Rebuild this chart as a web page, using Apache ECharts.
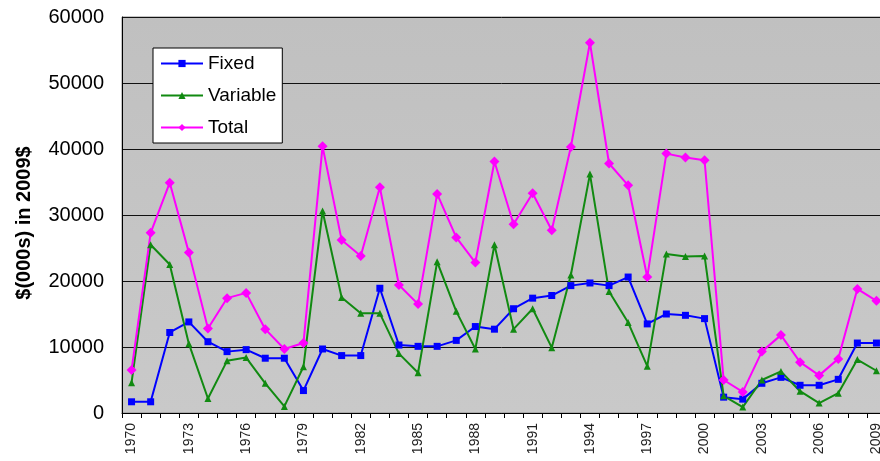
<!DOCTYPE html>
<html>
<head>
<meta charset="utf-8">
<script src="https://cdn.jsdelivr.net/npm/echarts@6/dist/echarts.min.js"></script>
<style>
  html, body { margin: 0; padding: 0; background: #fff; }
  #chart { width: 880px; height: 461px; }
</style>
</head>
<body>
<div id="chart"></div>
<script>
// Annual costs, thousands of 2009 dollars
const years = [];
for (let y = 1970; y <= 2009; y++) years.push(String(y));

const fixed = [1700, 1700, 12200, 13800, 10800, 9300, 9600, 8300, 8300, 3400,
  9700, 8700, 8700, 18900, 10300, 10100, 10100, 11000, 13100, 12700,
  15800, 17400, 17800, 19300, 19700, 19300, 20600, 13500, 15000, 14800,
  14300, 2400, 2100, 4500, 5400, 4200, 4200, 5100, 10600, 10600];

const variable = [4600, 25500, 22500, 10500, 2200, 7900, 8400, 4500, 1000, 7000,
  30600, 17500, 15100, 15100, 9000, 6100, 22900, 15400, 9700, 25500,
  12700, 15800, 9900, 20900, 36200, 18400, 13700, 7100, 24100, 23700,
  23800, 2600, 900, 5000, 6300, 3300, 1500, 3000, 8100, 6400];

const total = [6500, 27300, 34900, 24300, 12800, 17400, 18200, 12700, 9700, 10600,
  40400, 26200, 23800, 34200, 19400, 16500, 33200, 26600, 22800, 38100,
  28600, 33300, 27700, 40300, 56100, 37800, 34500, 20600, 39300, 38700,
  38300, 5000, 3200, 9300, 11800, 7700, 5700, 8200, 18800, 17000];

const FONT = 'Liberation Sans, Arial, sans-serif';
const chart = echarts.init(document.getElementById('chart'));

function lineSeries(name, data, color, symbol, size) {
  return {
    name, type: 'line', data,
    symbol, symbolSize: size,
    lineStyle: { color, width: 2 },
    itemStyle: { color },
    emphasis: { disabled: true },
    animation: false
  };
}

chart.setOption({
  animation: false,
  grid: {
    // the plot runs a few pixels past the right edge of the canvas
    left: 122, top: 17, bottom: 48, right: -6,
    outerBoundsMode: 'none',
    containLabel: false,
    show: true,
    backgroundColor: {
      type: 'linear', x: 0, y: 0, x2: 0, y2: 1,
      colorStops: [{ offset: 0, color: '#c0c0c0' }, { offset: 1, color: '#c9c9c9' }]
    },
    borderColor: '#8a8a8a', borderWidth: 1
  },
  legend: {
    left: 153, top: 48,
    orient: 'vertical',
    backgroundColor: '#fff',
    borderColor: '#000', borderWidth: 1,
    padding: [6, 6, 6, 7],
    itemWidth: 42, itemHeight: 9, itemGap: 13,
    textStyle: { fontFamily: FONT, fontSize: 19, color: '#000' },
    data: ['Fixed', 'Variable', 'Total']
  },
  xAxis: {
    type: 'category',
    data: years,
    boundaryGap: true,
    axisLine: { lineStyle: { color: '#000', width: 1 } },
    axisTick: { show: true, interval: 0, length: 5, lineStyle: { color: '#000' } },
    axisLabel: {
      interval: 2, rotate: 90, margin: 10,
      fontFamily: FONT, fontSize: 14, color: '#222'
    },
    splitLine: { show: false }
  },
  yAxis: {
    type: 'value',
    min: 0, max: 60000, interval: 10000,
    name: '$(000s) in 2009$',
    nameLocation: 'middle',
    nameGap: 88,
    nameRotate: 90,
    nameTextStyle: {
      fontFamily: FONT, fontSize: 20, fontWeight: 'bold', color: '#000',
      padding: [0, 16, 0, 0]
    },
    axisLine: { show: true, lineStyle: { color: '#000' } },
    axisTick: { show: false },
    axisLabel: {
      margin: 18, fontFamily: FONT, fontSize: 20, color: '#000',
      formatter: v => String(v)
    },
    splitLine: { show: true, lineStyle: { color: '#111', width: 1 } }
  },
  series: [
    lineSeries('Fixed', fixed, '#0000ff', 'rect', 7),
    lineSeries('Variable', variable, '#118a11', 'triangle', 7),
    lineSeries('Total', total, '#ff00ff', 'diamond', 10)
  ]
});
</script>
</body>
</html>
